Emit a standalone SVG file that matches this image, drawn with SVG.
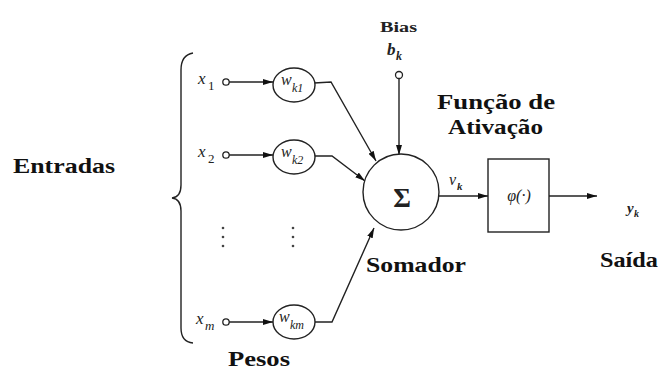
<svg xmlns="http://www.w3.org/2000/svg" width="661" height="372" viewBox="0 0 661 372" font-family="Liberation Serif, DejaVu Serif, serif">
<defs>
<marker id="ah" viewBox="0 0 10 6" refX="10" refY="3" markerWidth="10" markerHeight="6" markerUnits="userSpaceOnUse" orient="auto">
<path d="M0,0 L10,3 L0,6 z" fill="#111"/>
</marker>
</defs>
<style>
.ln{fill:none;stroke:#222;stroke-width:1.4}
.nd{fill:#fff;stroke:#222;stroke-width:1.4}
.sm{fill:#fff;stroke:#222;stroke-width:1.3}
.lbl{font-weight:bold;font-size:21px;fill:#111}
.it{font-style:italic;fill:#222}
.rg{fill:#222}
</style>
<rect width="661" height="372" fill="#fff"/>
<g id="connectors">
<line class="ln" x1="229" y1="82" x2="273" y2="82" marker-end="url(#ah)"/>
<line class="ln" x1="229" y1="155" x2="273" y2="155" marker-end="url(#ah)"/>
<line class="ln" x1="229" y1="322" x2="273" y2="322" marker-end="url(#ah)"/>
<polyline class="ln" points="314,83 331,82 376,161" marker-end="url(#ah)"/>
<polyline class="ln" points="314,156 332,156 365,181" marker-end="url(#ah)"/>
<polyline class="ln" points="315,322 332,322 374,228" marker-end="url(#ah)"/>
<line class="ln" x1="399" y1="79" x2="399" y2="155" marker-end="url(#ah)"/>
<line class="ln" x1="439" y1="196" x2="488" y2="196" marker-end="url(#ah)"/>
<line class="ln" x1="549" y1="196" x2="597" y2="196" marker-end="url(#ah)"/>
</g>
<g id="brace">
<path class="ln" d="M193,53 Q181,55 181,70 L181,185 Q181,197 172,198 Q181,199 181,211 L181,328 Q181,342 193,343"/>
</g>
<g id="x1">
<text class="it" x="198" y="84" font-size="17">x</text>
<text class="rg" x="208" y="90" font-size="13">1</text>
<circle class="sm" cx="226" cy="82" r="3.2"/>
</g>
<g id="x2">
<text class="it" x="198" y="157" font-size="17">x</text>
<text class="rg" x="208" y="163" font-size="13">2</text>
<circle class="sm" cx="226" cy="155" r="3.2"/>
</g>
<g id="xm">
<text class="it" x="196" y="324" font-size="17">x</text>
<text class="it" x="205" y="330" font-size="13">m</text>
<circle class="sm" cx="226" cy="322" r="3.2"/>
</g>
<g id="dots">
<circle cx="223" cy="228" r="1.3" fill="#444"/>
<circle cx="223" cy="237" r="1.3" fill="#444"/>
<circle cx="223" cy="246" r="1.3" fill="#444"/>
<circle cx="293" cy="228" r="1.3" fill="#444"/>
<circle cx="293" cy="237" r="1.3" fill="#444"/>
<circle cx="293" cy="246" r="1.3" fill="#444"/>
</g>
<g id="wk1">
<ellipse class="nd" cx="294" cy="85" rx="21" ry="17"/>
<text class="it" x="281" y="85" font-size="16">w</text>
<text class="it" x="292" y="92" font-size="12">k1</text>
</g>
<g id="wk2">
<ellipse class="nd" cx="294" cy="157" rx="21" ry="17"/>
<text class="it" x="281" y="157" font-size="16">w</text>
<text class="it" x="292" y="164" font-size="12">k2</text>
</g>
<g id="wkm">
<ellipse class="nd" cx="294" cy="322" rx="21" ry="17"/>
<text class="it" x="279" y="322" font-size="16">w</text>
<text class="it" x="290" y="329" font-size="12">km</text>
</g>
<g id="bias">
<text class="rg" x="380" y="32" font-size="15" font-weight="bold" textLength="37" lengthAdjust="spacingAndGlyphs">Bias</text>
<text class="it" x="387" y="55" font-size="17" font-weight="bold">b</text>
<text class="it" x="396" y="60" font-size="12" font-weight="bold">k</text>
<circle class="sm" cx="399" cy="75" r="3.5"/>
</g>
<g id="somador">
<circle class="nd" cx="401" cy="192" r="38" stroke="#555"/>
<text class="rg" x="402" y="207" font-size="27" font-weight="bold" text-anchor="middle">Σ</text>
</g>
<g id="vk">
<text class="it" x="449" y="185" font-size="16">v</text>
<text class="it" x="457" y="190" font-size="11" font-weight="bold">k</text>
</g>
<g id="ativacao">
<rect class="nd" x="488" y="159" width="61" height="73"/>
<text class="it" x="519" y="201" font-size="16" text-anchor="middle">φ(·)</text>
</g>
<g id="yk">
<text class="it" x="627" y="213" font-size="15" font-weight="bold">y</text>
<text class="it" x="634" y="217" font-size="10" font-weight="bold">k</text>
</g>
<g id="labels">
<text class="lbl" x="13" y="173" textLength="102" lengthAdjust="spacingAndGlyphs">Entradas</text>
<text class="lbl" x="437" y="109" textLength="118" lengthAdjust="spacingAndGlyphs">Função de</text>
<text class="lbl" x="448" y="134" textLength="95" lengthAdjust="spacingAndGlyphs">Ativação</text>
<text class="lbl" x="366" y="272" textLength="100" lengthAdjust="spacingAndGlyphs">Somador</text>
<text class="lbl" x="600" y="267" textLength="58" lengthAdjust="spacingAndGlyphs">Saída</text>
<text class="lbl" x="228" y="366" textLength="62" lengthAdjust="spacingAndGlyphs">Pesos</text>
</g>
</svg>
